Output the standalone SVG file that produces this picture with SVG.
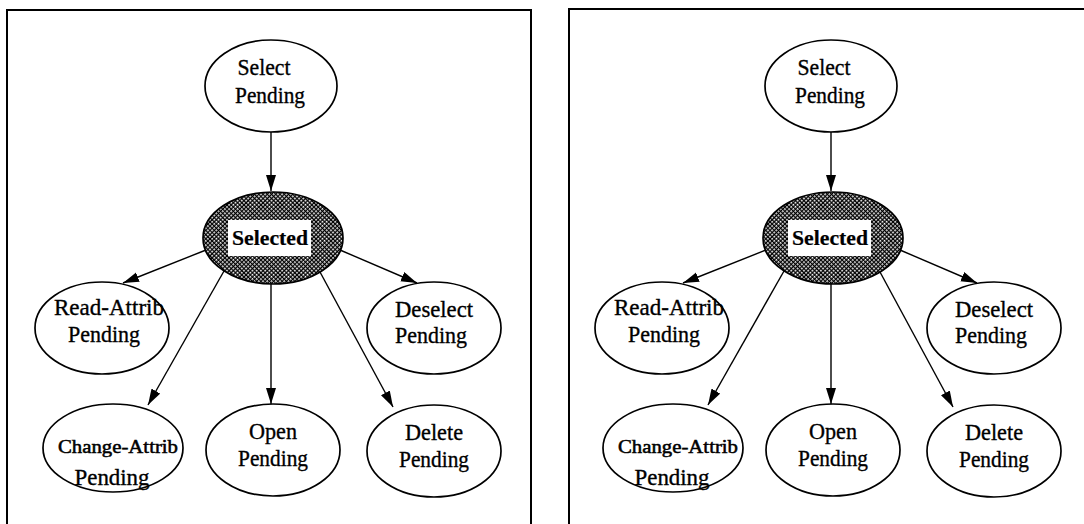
<svg xmlns="http://www.w3.org/2000/svg" width="1084" height="524" viewBox="0 0 1084 524">
  <style>
    .frame { fill: none; stroke: #000; stroke-width: 2; }
    .node { fill: #fff; stroke: #000; stroke-width: 1.7; }
    .hot { fill: url(#hatch); stroke: #000; stroke-width: 1.7; }
    .lbl { font-family: "Liberation Serif", "Times New Roman", serif; font-size: 24px; fill: #000; stroke: #000; stroke-width: 0.35; text-anchor: middle; }
    .small { font-size: 18px; stroke-width: 0.5; }
    .sel { font-size: 22px; font-weight: bold; stroke-width: 0.2; }
    .edge { fill: none; stroke: #000; stroke-width: 1.4; marker-end: url(#arrow); }
  </style>
  <defs>
    <pattern id="hatch" width="3" height="3" patternUnits="userSpaceOnUse" patternTransform="rotate(45)">
      <rect width="3" height="3" fill="#000"/>
      <rect width="1.7" height="1.7" fill="#fff"/>
    </pattern>
    <marker id="arrow" markerUnits="userSpaceOnUse" markerWidth="18" markerHeight="12" refX="16" refY="5" orient="auto">
      <path d="M0,0 L16,5 L0,10 Z" fill="#000"/>
    </marker>
  </defs>

  <rect width="1084" height="524" fill="#fff"/>

  <!-- panel frames (open at the bottom / right edge) -->
  <path class="frame" d="M7,530 V10 H531 V530"/>
  <path class="frame" d="M569,530 V9 H1090"/>

  <!-- ===== left panel ===== -->
  <g id="left-panel">
    <g id="left-connectors">
      <line class="edge" x1="271" y1="132" x2="271" y2="191"/>
      <line class="edge" x1="206" y1="250" x2="123" y2="283"/>
      <line class="edge" x1="340" y1="250" x2="417" y2="283"/>
      <line class="edge" x1="224" y1="271" x2="148" y2="405"/>
      <line class="edge" x1="271" y1="284" x2="271" y2="404"/>
      <line class="edge" x1="320" y1="272" x2="393" y2="407"/>
    </g>

    <g id="left-select-pending">
      <ellipse class="node" cx="271" cy="86" rx="66" ry="46"/>
      <text class="lbl" x="264" y="75" textLength="53" lengthAdjust="spacingAndGlyphs">Select</text>
      <text class="lbl" x="270" y="103" textLength="70" lengthAdjust="spacingAndGlyphs">Pending</text>
    </g>

    <g id="left-selected">
      <ellipse class="hot" cx="273" cy="238" rx="70" ry="46"/>
      <rect x="228" y="220" width="83" height="36" fill="#fff"/>
      <text class="lbl sel" x="270" y="245" textLength="76" lengthAdjust="spacingAndGlyphs">Selected</text>
    </g>

    <g id="left-read-attrib-pending">
      <ellipse class="node" cx="102" cy="328" rx="67" ry="46"/>
      <text class="lbl" x="109" y="315" textLength="110" lengthAdjust="spacingAndGlyphs">Read-Attrib</text>
      <text class="lbl" x="104" y="342" textLength="72" lengthAdjust="spacingAndGlyphs">Pending</text>
    </g>

    <g id="left-deselect-pending">
      <ellipse class="node" cx="434" cy="328" rx="67" ry="46"/>
      <text class="lbl" x="434" y="317" textLength="78" lengthAdjust="spacingAndGlyphs">Deselect</text>
      <text class="lbl" x="431" y="343" textLength="72" lengthAdjust="spacingAndGlyphs">Pending</text>
    </g>

    <g id="left-change-attrib-pending">
      <ellipse class="node" cx="113" cy="448" rx="70" ry="44"/>
      <text class="lbl small" x="118" y="453" textLength="120" lengthAdjust="spacingAndGlyphs">Change-Attrib</text>
      <text class="lbl" x="112" y="485" style="font-size:23px" textLength="75" lengthAdjust="spacingAndGlyphs">Pending</text>
    </g>

    <g id="left-open-pending">
      <ellipse class="node" cx="273" cy="450" rx="67" ry="46"/>
      <text class="lbl" x="273" y="439" textLength="48" lengthAdjust="spacingAndGlyphs">Open</text>
      <text class="lbl" x="273" y="466" textLength="70" lengthAdjust="spacingAndGlyphs">Pending</text>
    </g>

    <g id="left-delete-pending">
      <ellipse class="node" cx="434" cy="451" rx="67" ry="46"/>
      <text class="lbl" x="434" y="440" textLength="58" lengthAdjust="spacingAndGlyphs">Delete</text>
      <text class="lbl" x="434" y="467" textLength="70" lengthAdjust="spacingAndGlyphs">Pending</text>
    </g>
  </g>

  <!-- ===== right panel (same chart, shifted) ===== -->
  <g id="right-panel" transform="translate(560 0)">
    <g id="right-connectors">
      <line class="edge" x1="271" y1="132" x2="271" y2="191"/>
      <line class="edge" x1="206" y1="250" x2="123" y2="283"/>
      <line class="edge" x1="340" y1="250" x2="417" y2="283"/>
      <line class="edge" x1="224" y1="271" x2="148" y2="405"/>
      <line class="edge" x1="271" y1="284" x2="271" y2="404"/>
      <line class="edge" x1="320" y1="272" x2="393" y2="407"/>
    </g>

    <g id="right-select-pending">
      <ellipse class="node" cx="271" cy="86" rx="66" ry="46"/>
      <text class="lbl" x="264" y="75" textLength="53" lengthAdjust="spacingAndGlyphs">Select</text>
      <text class="lbl" x="270" y="103" textLength="70" lengthAdjust="spacingAndGlyphs">Pending</text>
    </g>

    <g id="right-selected">
      <ellipse class="hot" cx="273" cy="238" rx="70" ry="46"/>
      <rect x="228" y="220" width="83" height="36" fill="#fff"/>
      <text class="lbl sel" x="270" y="245" textLength="76" lengthAdjust="spacingAndGlyphs">Selected</text>
    </g>

    <g id="right-read-attrib-pending">
      <ellipse class="node" cx="102" cy="328" rx="67" ry="46"/>
      <text class="lbl" x="109" y="315" textLength="110" lengthAdjust="spacingAndGlyphs">Read-Attrib</text>
      <text class="lbl" x="104" y="342" textLength="72" lengthAdjust="spacingAndGlyphs">Pending</text>
    </g>

    <g id="right-deselect-pending">
      <ellipse class="node" cx="434" cy="328" rx="67" ry="46"/>
      <text class="lbl" x="434" y="317" textLength="78" lengthAdjust="spacingAndGlyphs">Deselect</text>
      <text class="lbl" x="431" y="343" textLength="72" lengthAdjust="spacingAndGlyphs">Pending</text>
    </g>

    <g id="right-change-attrib-pending">
      <ellipse class="node" cx="113" cy="448" rx="70" ry="44"/>
      <text class="lbl small" x="118" y="453" textLength="120" lengthAdjust="spacingAndGlyphs">Change-Attrib</text>
      <text class="lbl" x="112" y="485" style="font-size:23px" textLength="75" lengthAdjust="spacingAndGlyphs">Pending</text>
    </g>

    <g id="right-open-pending">
      <ellipse class="node" cx="273" cy="450" rx="67" ry="46"/>
      <text class="lbl" x="273" y="439" textLength="48" lengthAdjust="spacingAndGlyphs">Open</text>
      <text class="lbl" x="273" y="466" textLength="70" lengthAdjust="spacingAndGlyphs">Pending</text>
    </g>

    <g id="right-delete-pending">
      <ellipse class="node" cx="434" cy="451" rx="67" ry="46"/>
      <text class="lbl" x="434" y="440" textLength="58" lengthAdjust="spacingAndGlyphs">Delete</text>
      <text class="lbl" x="434" y="467" textLength="70" lengthAdjust="spacingAndGlyphs">Pending</text>
    </g>
  </g>
</svg>
